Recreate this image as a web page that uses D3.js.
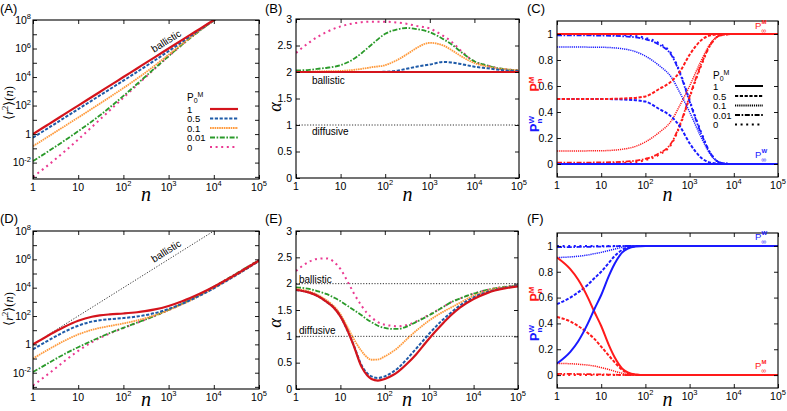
<!DOCTYPE html>
<html><head><meta charset="utf-8">
<script src="https://cdn.jsdelivr.net/npm/d3@7/dist/d3.min.js"></script>
<style>
html,body{margin:0;padding:0;background:#fff;}
svg{display:block;}
text{font-family:"Liberation Sans",Arial,sans-serif;fill:#000;}
</style></head>
<body>
<svg id="chart" width="787" height="411"></svg>
<script>
// ================= DATA =================
const p0Labels = ["1", "0.5", "0.1", "0.01", "0"];

// n grid for panels A, B, D
const nMSD = [1,2,3,5,10,20,30,50,100,200,300,500,1000,2000,3000,5000,10000,20000,30000,50000,100000];

// (A) log10 <r^2>(n)
const msdA_p1   = [0,0.602,0.954,1.398,2,2.602,2.954,3.398,4,4.602,4.954,5.398,6,6.602,6.954,7.398,8,8.602,8.954,9.398,10];
const msdA_p05  = [-0.25,0.352,0.704,1.148,1.75,2.352,2.704,3.148,3.75,4.357,4.717,5.179,5.817,6.469,6.854,7.335,7.975,8.603,8.966,9.419,10.029];
const msdA_p01  = [-0.85,-0.247,0.106,0.553,1.16,1.771,2.132,2.593,3.228,3.886,4.288,4.819,5.572,6.332,6.765,7.289,7.962,8.605,8.972,9.429,10.043];
const msdA_p001 = [-1.9,-1.284,-0.919,-0.451,0.201,0.886,1.309,1.871,2.675,3.51,4.006,4.631,5.466,6.274,6.727,7.272,7.961,8.611,8.981,9.439,10.053];
const msdA_p0   = [-3.0,-2.266,-1.814,-1.219,-0.376,0.494,1.01,1.664,2.552,3.437,3.951,4.593,5.449,6.277,6.74,7.293,7.985,8.635,9.005,9.463,10.077];

// (B) alpha(n)
const alphaB_p1   = [2,2,2,2,2,2,2,2,2,2,2,2,2,2,2,2,2,2,2,2,2];
const alphaB_p05  = [2,2,2,2,2,2,2,2,2.005,2.03,2.06,2.1,2.14,2.19,2.18,2.15,2.1,2.07,2.05,2.03,2.02];
const alphaB_p01  = [2,2.005,2.01,2.015,2.02,2.04,2.06,2.09,2.13,2.24,2.33,2.45,2.55,2.5,2.42,2.3,2.17,2.1,2.07,2.05,2.03];
const alphaB_p001 = [2.03,2.04,2.06,2.08,2.13,2.25,2.36,2.52,2.72,2.81,2.83,2.81,2.75,2.62,2.53,2.38,2.2,2.12,2.08,2.05,2.03];
const alphaB_p0   = [2.36,2.56,2.66,2.76,2.86,2.92,2.94,2.95,2.95,2.93,2.91,2.87,2.82,2.68,2.58,2.4,2.2,2.12,2.08,2.05,2.03];

// (D) log10 <r^2>(n)
const msdD_p1   = [0,0.557,0.871,1.243,1.667,1.949,2.043,2.114,2.179,2.266,2.34,2.464,2.712,3.046,3.271,3.586,4.066,4.591,4.913,5.331,5.912];
const msdD_p05  = [-0.35,0.207,0.521,0.893,1.317,1.603,1.702,1.78,1.857,1.964,2.055,2.208,2.497,2.869,3.115,3.454,3.958,4.52,4.85,5.28,5.88];
const msdD_p01  = [-1.0,-0.436,-0.117,0.26,0.699,1.023,1.158,1.296,1.474,1.688,1.839,2.058,2.412,2.829,3.095,3.452,3.974,4.526,4.858,5.283,5.868];
const msdD_p001 = [-1.95,-1.4,-1.07,-0.68,-0.2,0.25,0.5,0.8,1.17,1.53,1.74,2.02,2.43,2.87,3.15,3.53,4.07,4.62,4.95,5.38,5.93];
const msdD_p0   = [-2.9,-2.18,-1.74,-1.18,-0.46,0.151,0.446,0.768,1.155,1.519,1.732,2.012,2.421,2.868,3.15,3.527,4.064,4.621,4.955,5.385,5.94];
const ballisticN = [1, 10000];
const ballisticR2 = [1, 1e8];

// (E) alpha(n)
const nAlphaE = [1,2,3,5,7,10,15,20,30,40,50,70,100,150,200,300,500,700,1000,2000,3000,5000,10000,20000,30000,50000,100000];
const alphaE_p1   = [1.88,1.83,1.77,1.65,1.55,1.38,1.08,0.82,0.42,0.26,0.19,0.16,0.19,0.26,0.33,0.46,0.65,0.8,0.96,1.24,1.39,1.55,1.71,1.82,1.87,1.91,1.95];
const alphaE_p05  = [1.88,1.83,1.77,1.65,1.55,1.38,1.08,0.83,0.45,0.3,0.24,0.21,0.24,0.32,0.4,0.55,0.76,0.9,1.05,1.31,1.44,1.59,1.74,1.84,1.88,1.92,1.96];
const alphaE_p01  = [1.9,1.85,1.79,1.68,1.58,1.42,1.15,0.95,0.72,0.6,0.555,0.56,0.62,0.71,0.79,0.93,1.1,1.2,1.3,1.46,1.54,1.64,1.77,1.86,1.9,1.93,1.96];
const alphaE_p001 = [1.93,1.9,1.86,1.8,1.74,1.67,1.57,1.5,1.4,1.32,1.27,1.2,1.16,1.14,1.14,1.18,1.27,1.33,1.4,1.55,1.64,1.72,1.81,1.88,1.91,1.94,1.96];
const alphaE_p0   = [2.24,2.42,2.47,2.48,2.42,2.28,2.02,1.82,1.58,1.44,1.36,1.27,1.22,1.2,1.19,1.21,1.28,1.34,1.41,1.55,1.64,1.72,1.81,1.88,1.91,1.94,1.96];

// (C) P_n^M and P_n^W
const nProbC = [1,10,40,100,200,400,600,1000,1800,3000,5000,10000,100000];
const pmC_p1   = [1,1,1,1,1,1,1,1,1,1,1,1,1];
const pmC_p05  = [0.5,0.5,0.505,0.52,0.575,0.64,0.71,0.84,0.95,0.99,0.998,1,1];
const pmC_p01  = [0.1,0.102,0.12,0.17,0.24,0.34,0.45,0.6,0.79,0.93,0.99,1,1];
const pmC_p001 = [0.01,0.012,0.02,0.04,0.08,0.17,0.3,0.52,0.76,0.92,0.99,1,1];
const pmC_p0   = [0,0.002,0.01,0.03,0.07,0.16,0.29,0.51,0.75,0.92,0.99,1,1];
const pwC_p1   = [0,0,0,0,0,0,0,0,0,0,0,0,0];
const pwC_p05  = [0.5,0.5,0.495,0.48,0.425,0.36,0.29,0.16,0.05,0.01,0.002,0,0];
const pwC_p01  = [0.9,0.898,0.88,0.83,0.76,0.66,0.55,0.4,0.21,0.07,0.01,0,0];
const pwC_p001 = [0.99,0.988,0.98,0.96,0.92,0.83,0.7,0.48,0.24,0.08,0.01,0,0];
const pwC_p0   = [1,0.998,0.99,0.97,0.93,0.84,0.71,0.49,0.25,0.08,0.01,0,0];

// (F) P_n^M and P_n^W
const nProbF = [1,2,3,5,7,10,15,20,30,40,60,100,100000];
const pmF_p1   = [0.91,0.82,0.74,0.6,0.49,0.38,0.23,0.14,0.05,0.02,0.004,0,0];
const pmF_p05  = [0.45,0.415,0.38,0.325,0.28,0.22,0.15,0.1,0.04,0.015,0.003,0,0];
const pmF_p01  = [0.09,0.088,0.084,0.077,0.07,0.058,0.043,0.03,0.014,0.006,0.001,0,0];
const pmF_p001 = [0.009,0.009,0.008,0.007,0.006,0.005,0.004,0.003,0.001,0.0005,0,0,0];
const pmF_p0   = [0,0,0,0,0,0,0,0,0,0,0,0,0];
const pwF_p1   = [0.09,0.18,0.26,0.4,0.51,0.62,0.77,0.86,0.95,0.98,0.996,1,1];
const pwF_p05  = [0.55,0.6,0.64,0.7,0.75,0.8,0.87,0.92,0.97,0.99,0.998,1,1];
const pwF_p01  = [0.91,0.915,0.92,0.93,0.94,0.95,0.965,0.975,0.99,0.996,0.999,1,1];
const pwF_p001 = [0.991,0.991,0.992,0.993,0.994,0.995,0.996,0.997,0.999,0.9995,1,1,1];
const pwF_p0   = [1,1,1,1,1,1,1,1,1,1,1,1,1];

// ticks
const xTickValues = [1,10,100,1000,10000,100000];
const xTickExps = [0,1,2,3,4,5];
const msdTickValues = [1e-3,1e-2,1e-1,1,10,100,1e3,1e4,1e5,1e6,1e7,1e8];
const msdLabelExps = [-2,0,2,4,6,8];
const alphaTicks = [0,0.5,1,1.5,2,2.5,3];
const alphaTickLabels = ["0","0.5","1","1.5","2","2.5","3"];
const probTicks = [0,0.2,0.4,0.6,0.8,1];
const probTickLabels = ["0","0.2","0.4","0.6","0.8","1"];

// ================= STYLE =================
const seriesColor = ["#d4141c","#1f5ba8","#ff9a3c","#2a9a2a","#ea3a92"];
const seriesDash  = [null,"3.2,1.6","1.6,0.7","5,1.6,1.6,1.6","2,3.6"];
const seriesWidth = [2.2,2,1.8,1.8,2];
const probDash    = [null,"3.2,1.6","1.2,0.9","5,1.6,1.6,1.6","2,3.6"];
const probWidth   = [2,2,1.5,1.8,2];
const RED = "#ff1a1a", BLUE = "#1a1aff";
const TICKFONT = 10.5;

const svg = d3.select("#chart");
const defs = svg.append("defs");

function expLabel(sel, k, supSize) {
  if (k === 0) { sel.text("1"); return; }
  sel.text("10");
  if (k !== 1) sel.append("tspan").attr("dy", -4.5).attr("font-size", supSize || 7.5).text(k);
}

function makePanel(o) {
  const g = svg.append("g");
  const x = d3.scaleLog().domain([1, 1e5]).range([o.x0, o.x1]);
  const y = (o.log ? d3.scaleLog() : d3.scaleLinear()).domain(o.yDomain).range([o.y1, o.y0]);
  const id = "clip" + o.name;
  defs.append("clipPath").attr("id", id).append("rect")
    .attr("x", o.x0).attr("y", o.y0).attr("width", o.x1 - o.x0).attr("height", o.y1 - o.y0);
  const plot = g.append("g").attr("clip-path", `url(#${id})`);
  const ticks = g.append("g");
  const strip = s => { s.select(".domain").remove(); s.selectAll("line").attr("stroke", "#000").attr("stroke-width", 0.9); };
  ticks.append("g").attr("transform", `translate(0,${o.y1})`)
    .call(d3.axisBottom(x).tickValues(xTickValues).tickSize(-4).tickFormat(() => "")).call(strip);
  ticks.append("g").attr("transform", `translate(0,${o.y0})`)
    .call(d3.axisTop(x).tickValues(xTickValues).tickSize(-4).tickFormat(() => "")).call(strip);
  ticks.append("g").attr("transform", `translate(${o.x0},0)`)
    .call(d3.axisLeft(y).tickValues(o.yTicks).tickSize(-4).tickFormat(() => "")).call(strip);
  ticks.append("g").attr("transform", `translate(${o.x1},0)`)
    .call(d3.axisRight(y).tickValues(o.yTicks).tickSize(-4).tickFormat(() => "")).call(strip);
  xTickValues.forEach((v, i) => {
    const t = g.append("text").attr("x", x(v)).attr("y", o.y1 + 11.5)
      .attr("text-anchor", "middle").attr("font-size", TICKFONT);
    expLabel(t, xTickExps[i]);
  });
  if (o.log) {
    msdLabelExps.forEach(k => {
      const t = g.append("text").attr("x", o.x0 - 2).attr("y", y(Math.pow(10, k)) + 3.8)
        .attr("text-anchor", "end").attr("font-size", TICKFONT);
      expLabel(t, k);
    });
  } else {
    o.yLabelValues.forEach((v, i) => {
      g.append("text").attr("x", o.x0 - 4).attr("y", y(v) + 3.8)
        .attr("text-anchor", "end").attr("font-size", TICKFONT).text(o.yLabelTexts[i]);
    });
  }
  g.append("text").attr("x", o.px).attr("y", o.py).attr("font-size", 13).text(o.title);
  g.append("text").attr("x", (o.x0 + o.x1) / 2).attr("y", o.nY)
    .attr("text-anchor", "middle").attr("font-style", "italic").attr("font-size", 20)
    .style("font-family", "'Liberation Serif',serif").text("n");
  const frame = () => g.append("rect").attr("x", o.x0).attr("y", o.y0)
    .attr("width", o.x1 - o.x0).attr("height", o.y1 - o.y0)
    .attr("fill", "none").attr("stroke", "#000").attr("stroke-width", 1.1);
  return { x, y, plot, g, frame };
}

function drawSeries(p, ns, vals, color, dash, width, toVal) {
  const data = ns.map((n, i) => [n, toVal ? toVal(vals[i]) : vals[i]]);
  const line = d3.line().x(d => p.x(d[0])).y(d => p.y(d[1])).curve(d3.curveMonotoneX);
  p.plot.append("path").datum(data).attr("d", line)
    .attr("fill", "none").attr("stroke", color).attr("stroke-width", width)
    .attr("stroke-dasharray", dash).attr("stroke-linejoin", "round");
}

function hline(p, v) {
  p.plot.append("line").attr("x1", p.x(1)).attr("x2", p.x(1e5)).attr("y1", p.y(v)).attr("y2", p.y(v))
    .attr("stroke", "#000").attr("stroke-width", 0.8).attr("stroke-dasharray", "1.2,1.6");
}

function msdYLabel(cx, cy) {
  const t = svg.append("text").attr("transform", `translate(${cx},${cy}) rotate(-90)`)
    .attr("text-anchor", "middle").attr("font-size", 12.5).style("font-family", "'Liberation Serif',serif");
  t.append("tspan").text("\u27E8");
  t.append("tspan").attr("font-style", "italic").text("r");
  t.append("tspan").attr("dy", -5).attr("font-size", 8.5).text("2");
  t.append("tspan").attr("dy", 5).text("\u27E9(");
  t.append("tspan").attr("font-style", "italic").text("n");
  t.append("tspan").text(")");
}
function alphaYLabel(cx, cy) {
  svg.append("text").attr("transform", `translate(${cx},${cy}) rotate(-90)`)
    .attr("text-anchor", "middle").attr("font-size", 18).attr("font-style", "italic")
    .style("font-family", "'Liberation Serif',serif").text("\u03B1");
}
function probYLabel(cx, cy, sup, color) {
  const t = svg.append("text").attr("transform", `translate(${cx},${cy}) rotate(-90)`)
    .attr("text-anchor", "middle").attr("font-size", 12.5).attr("font-weight", "bold").style("fill", color);
  t.append("tspan").text("P");
  t.append("tspan").attr("dy", -5.5).attr("font-size", 8).text(sup);
  t.append("tspan").attr("dx", sup === "M" ? -7 : -7.5).attr("dy", 8).attr("font-size", 8).text("n");
}
// P with superscript over subscript infinity, drawn as three non-overlapping texts
function pInfLabel(x, y, sup, color) {
  svg.append("text").attr("x", x).attr("y", y).attr("font-size", 9.5).style("fill", color).text("P");
  svg.append("text").attr("x", x + 6.4).attr("y", y - 4.6).attr("font-size", 6).attr("font-weight", "bold")
    .style("fill", color).text(sup);
  svg.append("text").attr("x", x + 6.2).attr("y", y + 3.6).attr("font-size", 7).style("fill", color).text("\u221E");
}
function legend(x, yTitle, ys, lineX0, lineX1, colorFn, dashArr, widthArr) {
  const t = svg.append("text").attr("x", x).attr("y", yTitle).attr("font-size", 10);
  t.append("tspan").text("P");
  t.append("tspan").attr("dy", 1.5).attr("font-size", 7).text("0");
  t.append("tspan").attr("dy", -6).attr("font-size", 7).text("M");
  p0Labels.forEach((lab, i) => {
    svg.append("text").attr("x", x).attr("y", ys[i] + 3.5).attr("font-size", 9.5).text(lab);
    svg.append("line").attr("x1", lineX0).attr("x2", lineX1).attr("y1", ys[i]).attr("y2", ys[i])
      .attr("stroke", colorFn(i)).attr("stroke-width", widthArr[i]).attr("stroke-dasharray", dashArr[i]);
  });
}

const pow10 = v => Math.pow(10, v);

// ================= PANEL A =================
const msdA = [msdA_p1, msdA_p05, msdA_p01, msdA_p001, msdA_p0];
const pA = makePanel({name:"A", x0:33, x1:259, y0:20, y1:179, log:true, yDomain:[Math.pow(10,-3.15),1e8],
  yTicks: msdTickValues, title:"(A)", px:0, py:13, nY:201});
[4,3,2,1,0].forEach(i => drawSeries(pA, nMSD, msdA[i], seriesColor[i], seriesDash[i], seriesWidth[i], pow10));
pA.frame();
svg.append("text").attr("transform", "translate(168,44) rotate(-32)").attr("text-anchor", "middle")
  .attr("font-size", 10).text("ballistic");
msdYLabel(13, 103);
legend(187, 101, [109, 118.5, 128, 137.5, 147], 210, 238, i => seriesColor[i], seriesDash, seriesWidth);

// ================= PANEL B =================
const alphaB = [alphaB_p1, alphaB_p05, alphaB_p01, alphaB_p001, alphaB_p0];
const pB = makePanel({name:"B", x0:296, x1:519, y0:19, y1:178, log:false, yDomain:[0,3],
  yTicks: alphaTicks, yLabelValues: alphaTicks, yLabelTexts: alphaTickLabels, title:"(B)", px:265, py:13, nY:201});
hline(pB, 2); hline(pB, 1);
[4,3,2,1,0].forEach(i => drawSeries(pB, nMSD, alphaB[i], seriesColor[i], seriesDash[i], seriesWidth[i]));
pB.frame();
svg.append("text").attr("x", 312).attr("y", 84).attr("font-size", 10).text("ballistic");
svg.append("text").attr("x", 312).attr("y", 135).attr("font-size", 10).text("diffusive");
alphaYLabel(281, 107);

// ================= PANEL C =================
const pmC = [pmC_p1, pmC_p05, pmC_p01, pmC_p001, pmC_p0];
const pwC = [pwC_p1, pwC_p05, pwC_p01, pwC_p001, pwC_p0];
const pC = makePanel({name:"C", x0:557, x1:778, y0:21, y1:177, log:false, yDomain:[-0.1,1.1],
  yTicks: probTicks, yLabelValues: probTicks, yLabelTexts: probTickLabels, title:"(C)", px:527, py:13, nY:201});
[4,3,2,1,0].forEach(i => {
  drawSeries(pC, nProbC, pwC[i], BLUE, probDash[i], probWidth[i]);
  drawSeries(pC, nProbC, pmC[i], RED, probDash[i], probWidth[i]);
});
pC.frame();
pInfLabel(755, 29, "M", RED);
pInfLabel(755, 158, "W", BLUE);
probYLabel(539, 84, "M", RED);
probYLabel(539, 124, "W", BLUE);
legend(713, 79, [86, 96, 105.5, 115, 124.5], 735, 763, () => "#000", probDash, probWidth.map(w => Math.max(w, 1.8)));

// ================= PANEL D =================
const msdD = [msdD_p1, msdD_p05, msdD_p01, msdD_p001, msdD_p0];
const pD = makePanel({name:"D", x0:33, x1:259, y0:231, y1:389, log:true, yDomain:[Math.pow(10,-3.15),1e8],
  yTicks: msdTickValues, title:"(D)", px:0, py:223, nY:406});
pD.plot.append("path").datum(ballisticN.map((n, i) => [n, ballisticR2[i]]))
  .attr("d", d3.line().x(d => pD.x(d[0])).y(d => pD.y(d[1])))
  .attr("stroke", "#000").attr("stroke-width", 0.8).attr("stroke-dasharray", "1.2,1.6").attr("fill", "none");
[4,3,2,1,0].forEach(i => drawSeries(pD, nMSD, msdD[i], seriesColor[i], seriesDash[i], seriesWidth[i], pow10));
pD.frame();
svg.append("text").attr("transform", "translate(168,254) rotate(-32)").attr("text-anchor", "middle")
  .attr("font-size", 10).text("ballistic");
msdYLabel(13, 309);

// ================= PANEL E =================
const alphaE = [alphaE_p1, alphaE_p05, alphaE_p01, alphaE_p001, alphaE_p0];
const pE = makePanel({name:"E", x0:296, x1:518, y0:231, y1:389, log:false, yDomain:[0,3],
  yTicks: alphaTicks, yLabelValues: alphaTicks, yLabelTexts: alphaTickLabels, title:"(E)", px:265, py:223, nY:406});
hline(pE, 2); hline(pE, 1);
[4,3,2,1,0].forEach(i => drawSeries(pE, nAlphaE, alphaE[i], seriesColor[i], seriesDash[i], seriesWidth[i]));
pE.frame();
svg.append("text").attr("x", 299).attr("y", 283).attr("font-size", 10).text("ballistic");
svg.append("text").attr("x", 299).attr("y", 334).attr("font-size", 10).text("diffusive");
alphaYLabel(281, 323);

// ================= PANEL F =================
const pmF = [pmF_p1, pmF_p05, pmF_p01, pmF_p001, pmF_p0];
const pwF = [pwF_p1, pwF_p05, pwF_p01, pwF_p001, pwF_p0];
const pF = makePanel({name:"F", x0:557, x1:778, y0:233, y1:388, log:false, yDomain:[-0.1,1.1],
  yTicks: probTicks, yLabelValues: probTicks, yLabelTexts: probTickLabels, title:"(F)", px:527, py:223, nY:406});
[4,3,2,1,0].forEach(i => {
  drawSeries(pF, nProbF, pmF[i], RED, probDash[i], probWidth[i]);
  drawSeries(pF, nProbF, pwF[i], BLUE, probDash[i], probWidth[i]);
});
pF.frame();
pInfLabel(755, 240, "W", BLUE);
pInfLabel(755, 369, "M", RED);
probYLabel(539, 294, "M", RED);
probYLabel(539, 333, "W", BLUE);
</script>
</body></html>
